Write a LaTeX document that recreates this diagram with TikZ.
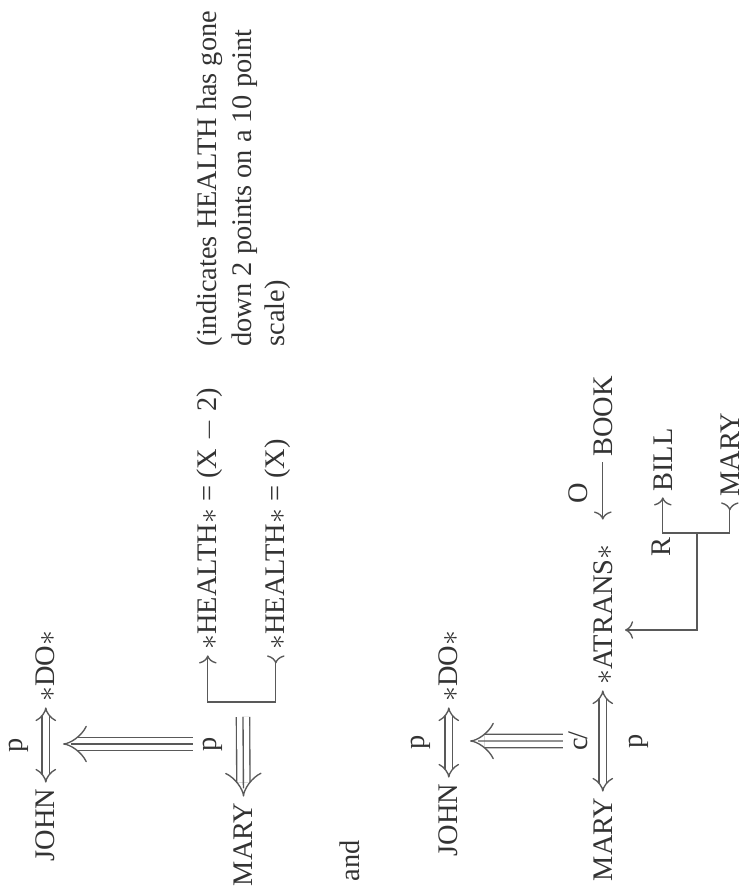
\documentclass[tikz,border=0pt]{standalone}
\usepackage{fontspec}
\setmainfont{Liberation Serif}
\usetikzlibrary{arrows.meta}
\tikzset{
  word/.style={inner sep=2pt, text height=0.68em, text depth=0pt, text=black!80},
  link/.style={draw=black!65, line width=0.5pt},
  dbl/.style={link, double, double distance=2.2pt, {Implies}-{Implies}},
  tri/.style={link, double, double distance=4.4pt, -{Implies}},
}
\begin{document}
\begin{tikzpicture}[x=0.013cm, y=0.013cm, rotate=90, transform shape,
    font=\fontsize{10.5}{12.6}\selectfont,
    >={Computer Modern Rightarrow[length=3pt, width=6.5pt]}]
  \useasboundingbox (0,0) rectangle (889,743);
  % John does something, Mary's health goes down
  \node[word, anchor=base east] (john1) at (106.4,688) {JOHN};
  \node[word, anchor=base west] (do1) at (181.6,688) {$\ast$DO$\ast$};
  \draw[dbl] (john1) -- node[word, above=6.5pt] (p1) {p} (do1);
  \node[word, anchor=base east] (mary1) at (92.4,490) {MARY};
  \node[word, anchor=base] (p2) at (145,526) {p};
  \coordinate (hd1) at (145,680);
  \draw[tri] (p2) -- (hd1);
  \draw[link, shorten >=3pt] (p2) -- (hd1);
  \coordinate (mt1) at (172,500);
  \draw[tri] (mt1) -- (mary1);
  \draw[link, shorten >=3pt] (mt1) -- (mary1);
  \node[word, anchor=base west] (health1) at (233.6,526) {$\ast$HEALTH$\ast$ = (X $-$ 2)};
  \node[word, anchor=base west] (health2) at (233.6,458) {$\ast$HEALTH$\ast$ = (X)};
  \coordinate (bk1) at (187,500);
  \draw[link, ->] (bk1) |- (health1);
  \draw[link, -<] (bk1) |- (health2);
  \node[word, anchor=base west] (note1) at (536.6,526) {(indicates HEALTH has gone};
  \node[word, anchor=base west] (note2) at (536.6,491) {down 2 points on a 10 point};
  \node[word, anchor=base west] (note3) at (536.6,458) {scale)};
  \node[word, anchor=base west] (and) at (1.6,383) {and};
  % John does something, Mary can't give the book to Bill
  \node[word, anchor=base east] (john2) at (111.4,285) {JOHN};
  \node[word, anchor=base west] (do2) at (181.6,285) {$\ast$DO$\ast$};
  \draw[dbl] (john2) -- node[word, above=6.9pt] (p3) {p} (do2);
  \node[word, anchor=base east] (mary2) at (97.4,131) {MARY};
  \node[word, anchor=base west] (atrans) at (198.6,131) {$\ast$ATRANS$\ast$};
  \draw[dbl] (mary2) -- node[word, above=3.5pt] (cnot) {c\kern-.08em/}
    node[word, below=5.8pt] (p4) {p} (atrans);
  \coordinate (hd2) at (148,273);
  \draw[tri] (cnot) -- (hd2);
  \draw[link, shorten >=3pt] (cnot) -- (hd2);
  \node[word, anchor=base west] (book) at (426.6,131) {BOOK};
  \draw[link, ->, shorten >=7pt] (book) -- node[word, pos=0.4, above=3.5pt] (o) {O} (atrans);
  \node[word, anchor=base east] (r) at (357.4,73) {R};
  \node[word, anchor=base west] (bill) at (391.6,71) {BILL};
  \node[word, anchor=base west] (mary3) at (386.6,4) {MARY};
  \coordinate (bk2) at (356,46);
  \coordinate (hd3) at (259,118);
  \draw[link, ->] (bk2) |- (bill);
  \draw[link, -<] (bk2) |- (mary3);
  \draw[link, ->] (bk2) -| (hd3);
\end{tikzpicture}
\end{document}
